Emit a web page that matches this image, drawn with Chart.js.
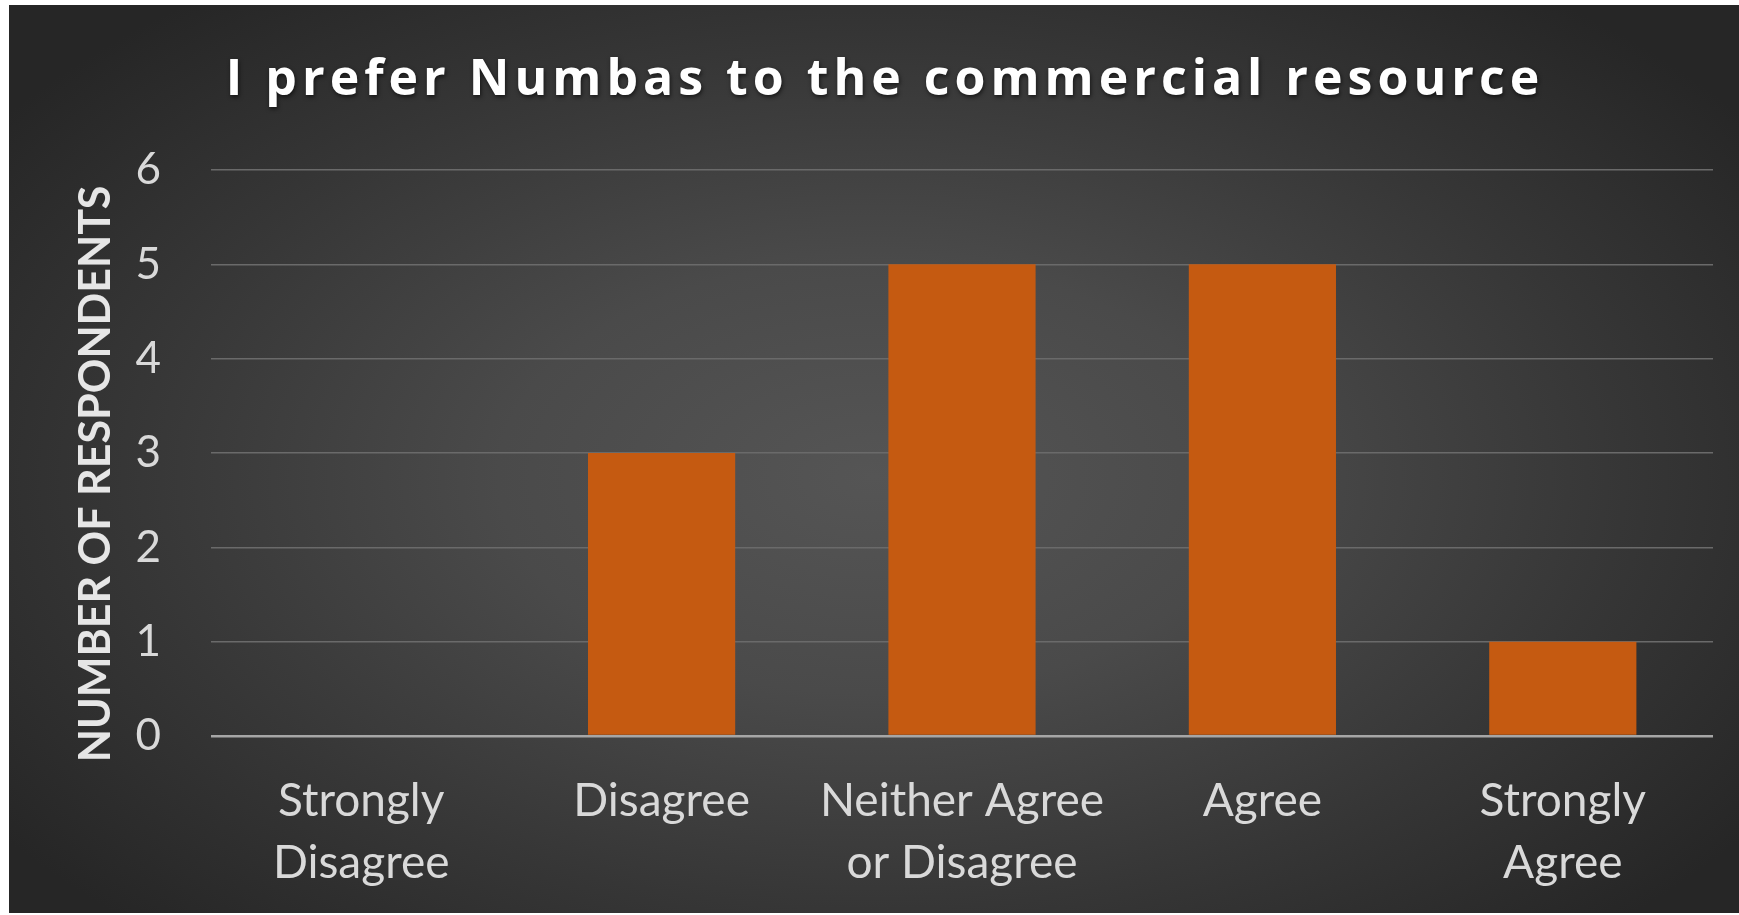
<!DOCTYPE html>
<html>
<head>
<meta charset="utf-8">
<script src="https://cdn.jsdelivr.net/npm/chart.js@4.4.1/dist/chart.umd.min.js"></script>
<style>
  html, body { margin: 0; padding: 0; background: #ffffff; }
  #wrap {
    position: absolute;
    left: 9px; top: 5px;
    width: 1730px; height: 908px;
    background: radial-gradient(ellipse 62% 68% at 50% 52%, #555555 0%, #4a4a4a 35%, #363636 70%, #262626 100%);
  }
</style>
</head>
<body>
<div id="wrap"><canvas id="surveyChart"></canvas></div>
<script>
// survey answers
const chartTitle = "I prefer Numbas to the commercial resource";
const categories = [
  ["Strongly", "Disagree"],
  "Disagree",
  ["Neither Agree", "or Disagree"],
  "Agree",
  ["Strongly", "Agree"]
];
const respondents = [0, 3, 5, 5, 1];
const yMin = 0;
const yMax = 6;
const yStep = 1;

const FONT = "Lato, 'Open Sans', sans-serif";
const TITLE_FONT = "'Open Sans', Lato, sans-serif";

// title with letter spacing (chart.js title can't do that)
const spacedTitle = {
  id: "spacedTitle",
  afterDraw(chart) {
    const ctx = chart.ctx;
    ctx.save();
    ctx.font = "bold 50px " + TITLE_FONT;
    ctx.letterSpacing = "5px";
    ctx.fillStyle = "#ffffff";
    ctx.textAlign = "center";
    ctx.textBaseline = "middle";
    ctx.shadowColor = "rgba(0,0,0,0.6)";
    ctx.shadowBlur = 4;
    ctx.shadowOffsetX = 1;
    ctx.shadowOffsetY = 2;
    ctx.fillText(chartTitle, chart.width / 2 + 11, 76);
    ctx.restore();
  }
};

document.addEventListener("DOMContentLoaded", () => {
  const ctx = document.getElementById("surveyChart").getContext("2d");
  new Chart(ctx, {
    type: "bar",
    data: {
      labels: categories,
      datasets: [{
        label: "Respondents",
        data: respondents,
        backgroundColor: "#c55a11",
        barPercentage: 1,
        categoryPercentage: 0.49
      }]
    },
    options: {
      responsive: true,
      maintainAspectRatio: false,
      animation: false,
      layout: { padding: { top: 165, left: 40, right: 26, bottom: 0 } },
      scales: {
        x: {
          afterFit(scale) { scale.height = 177; },
          grid: { display: false, drawTicks: false },
          border: { display: false },
          ticks: {
            color: "#d9d9d9",
            padding: 34,
            maxRotation: 0,
            font: { family: FONT, size: 46, lineHeight: 1.35 }
          }
        },
        y: {
          min: yMin,
          max: yMax,
          afterFit(scale) { scale.width = 162; },
          grid: {
            drawTicks: false,
            color: c => c.tick && c.tick.value === 0 ? "#a6a6a6" : "#6a6a6a",
            lineWidth: c => c.tick && c.tick.value === 0 ? 2.5 : 1.5
          },
          border: { display: false },
          ticks: {
            stepSize: yStep,
            color: "#d9d9d9",
            padding: 50,
            font: { family: FONT, size: 44 }
          },
          title: {
            display: true,
            // trailing spaces push the rotated text down a little, like the original
            text: "NUMBER OF RESPONDENTS\u00a0\u00a0\u00a0\u00a0",
            color: "#e6e6e6",
            padding: { top: 21, bottom: 0 },
            font: { family: FONT, size: 43, weight: "bold" }
          }
        }
      },
      plugins: {
        legend: { display: false },
        tooltip: { enabled: false }
      }
    },
    plugins: [spacedTitle]
  });
});
</script>
</body>
</html>
